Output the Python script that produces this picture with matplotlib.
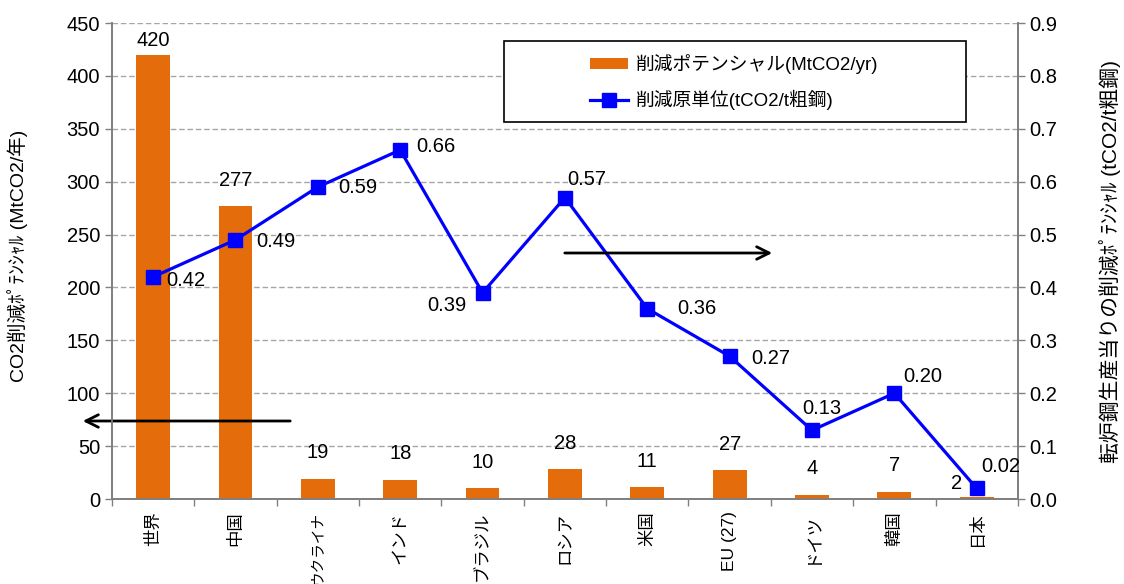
import matplotlib
matplotlib.use("Agg")
import matplotlib.pyplot as plt
from matplotlib.patches import Rectangle
import numpy as np

plt.rcParams['font.family'] = ['Liberation Sans', 'Noto Sans CJK JP', 'DejaVu Sans']

# Data
categories = ["世界", "中国", "ウクライナ", "インド", "ブラジル", "ロシア", "米国", "EU (27)", "ドイツ", "韓国", "日本"]
potential = [420, 277, 19, 18, 10, 28, 11, 27, 4, 7, 2]            # MtCO2/yr
intensity = [0.42, 0.49, 0.59, 0.66, 0.39, 0.57, 0.36, 0.27, 0.13, 0.20, 0.02]  # tCO2/t crude steel
intensity_labels = ["0.42", "0.49", "0.59", "0.66", "0.39", "0.57", "0.36", "0.27", "0.13", "0.20", "0.02"]

# label offsets in pixels (x right, y up) from each mark
line_offsets = [(33, -4), (40, -2), (40, -1), (36, 3), (-36, -13), (22, 18),
                (50, 0), (41, -2), (10, 22), (28, 17), (24, 22)]
bar_offsets = [(0, 14)] + [(0, 26)] * 9 + [(-20, 13)]

orange = "#E46C0A"
blue = "#0000FF"
gray = "#808080"
num_fs = 14.5

fig = plt.figure(figsize=(11.24, 5.84), dpi=100)
ax = fig.add_axes([0.0996, 0.1455, 0.806, 0.8151])
ax2 = ax.twinx()

x = np.arange(len(categories))
bars = ax.bar(x, potential, width=0.41, color=orange, zorder=2, label="削減ポテンシャル(MtCO2/yr)")
ax.set_xlim(-0.5, len(categories) - 0.5)
ax.set_ylim(0, 450)
ax.set_yticks(np.arange(0, 451, 50))
ax.yaxis.grid(True, linestyle=(0, (4, 2)), color="#A6A6A6", linewidth=1, zorder=0)
ax.set_axisbelow(True)

for xi, v, off in zip(x, potential, bar_offsets):
    ax.annotate(str(v), (xi, v), xytext=off, textcoords="offset pixels",
                ha="center", va="center", fontsize=num_fs)

line, = ax2.plot(x, intensity, color=blue, linewidth=2.3, marker="s", markersize=10,
                 zorder=3, label="削減原単位(tCO2/t粗鋼)")
ax2.set_ylim(0, 0.9)
ax2.set_yticks(np.arange(0, 0.91, 0.1))
ax2.set_yticklabels([f"{t:.1f}" for t in np.arange(0, 0.91, 0.1)])

for xi, v, lab, off in zip(x, intensity, intensity_labels, line_offsets):
    ax2.annotate(lab, (xi, v), xytext=off, textcoords="offset pixels",
                 ha="center", va="center", fontsize=num_fs)

# Axis styling
for a in (ax, ax2):
    a.spines["top"].set_visible(False)
    for s in ("left", "right", "bottom"):
        a.spines[s].set_color(gray)
        a.spines[s].set_linewidth(1.3)
    a.tick_params(axis="both", colors=gray, labelcolor="black", labelsize=num_fs, length=5, width=1)

ax.set_xticks(x)
ax.set_xticklabels(categories, rotation=90, fontsize=12.5, va="top", ha="center")
# the longest name is set a little smaller so it fits below the axis
for t in ax.get_xticklabels():
    if len(t.get_text()) >= 5 and t.get_text().isalpha():
        t.set_fontsize(10.5)
ax.set_xticks(np.arange(-0.5, len(categories), 1), minor=True)
ax.tick_params(axis="x", which="major", length=0, pad=9)
ax.tick_params(axis="x", which="minor", length=5, color=gray, width=1)

ax.set_ylabel("CO2削減ﾎﾟﾃﾝｼｬﾙ (MtCO2/年)", fontsize=14)
ax.yaxis.set_label_coords(-0.093, 0.51)
ax2.set_ylabel("転炉鋼生産当りの削減ﾎﾟﾃﾝｼｬﾙ (tCO2/t粗鋼)", fontsize=15)
ax2.yaxis.set_label_coords(1.089, 0.5)

# Direction arrows
arrow_kw = dict(arrowstyle="->,head_length=0.9,head_width=0.45", color="black", lw=2)
ax.annotate("", xy=(80 / 1124, 1 - 421 / 584), xytext=(293 / 1124, 1 - 421 / 584),
            xycoords="figure fraction", textcoords="figure fraction",
            arrowprops=arrow_kw, annotation_clip=False, zorder=5)
ax2.annotate("", xy=(775 / 1124, 1 - 253 / 584), xytext=(562 / 1124, 1 - 253 / 584),
             xycoords="figure fraction", textcoords="figure fraction",
             arrowprops=arrow_kw, annotation_clip=False, zorder=5)

# Legend box
frame = Rectangle((504 / 1124, 1 - 122 / 584), 462 / 1124, 81 / 584,
                  transform=fig.transFigure, facecolor="white", edgecolor="black",
                  linewidth=1.2, clip_on=False, zorder=9)
ax2.add_artist(frame)
leg = ax2.legend([bars, line], [bars.get_label(), line.get_label()],
                 loc="center left", bbox_to_anchor=(590 / 1124, 1 - 82 / 584),
                 bbox_transform=fig.transFigure, fontsize=13.5, frameon=False,
                 borderpad=0, labelspacing=0.85, handlelength=2.0, handleheight=0.55,
                 borderaxespad=0, handletextpad=0.45)
leg.set_zorder(10)

fig.savefig("out.png", dpi=100)
